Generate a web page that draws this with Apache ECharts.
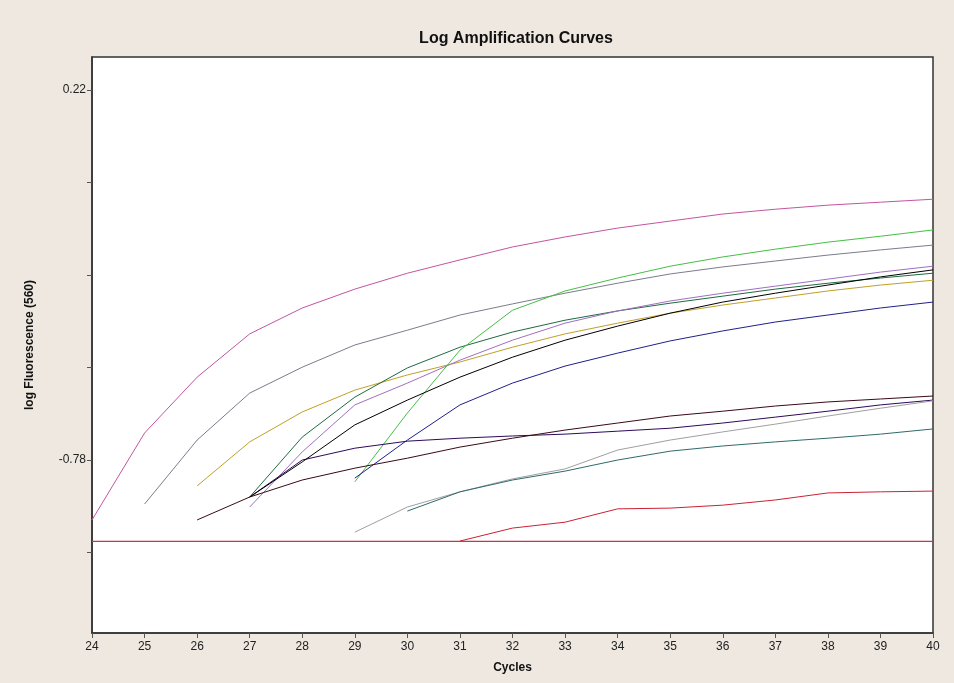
<!DOCTYPE html>
<html>
<head>
<meta charset="utf-8">
<script src="https://cdn.jsdelivr.net/npm/echarts@6/dist/echarts.min.js"></script>
<style>
html,body{margin:0;padding:0;background:#EEE8E0;}
#c{width:954px;height:683px;}
</style>
</head>
<body>
<div id="c"></div>
<script>
// Cycle numbers (x axis)
const cycles = [24,25,26,27,28,29,30,31,32,33,34,35,36,37,38,39,40];
const yTickValues = [0.22, -0.03, -0.28, -0.53, -0.78, -1.03];
const yLabelValues = [0.22, -0.78];

// Each series: first cycle, then values per cycle
const magentaStart = 24;
const magenta = [-0.942,-0.707,-0.556,-0.439,-0.369,-0.318,-0.275,-0.239,-0.204,-0.177,-0.153,-0.134,-0.115,-0.102,-0.091,-0.083,-0.075];
const grayStart = 25;
const gray = [-0.899,-0.726,-0.599,-0.529,-0.469,-0.429,-0.388,-0.358,-0.329,-0.302,-0.277,-0.258,-0.242,-0.226,-0.212,-0.199];
const oliveStart = 26;
const olive = [-0.850,-0.731,-0.650,-0.591,-0.550,-0.515,-0.475,-0.439,-0.410,-0.383,-0.361,-0.342,-0.323,-0.307,-0.294];
const darkGreenStart = 27;
const darkGreen = [-0.880,-0.718,-0.610,-0.531,-0.475,-0.434,-0.402,-0.377,-0.356,-0.337,-0.318,-0.302,-0.288,-0.275];
const violetStart = 27;
const violet = [-0.907,-0.758,-0.631,-0.572,-0.510,-0.456,-0.410,-0.377,-0.350,-0.329,-0.310,-0.291,-0.272,-0.256];
const blackStart = 27;
const black = [-0.880,-0.785,-0.685,-0.618,-0.556,-0.502,-0.456,-0.418,-0.383,-0.353,-0.329,-0.307,-0.285,-0.266];
const greenStart = 29;
const green = [-0.839,-0.653,-0.483,-0.375,-0.323,-0.288,-0.256,-0.231,-0.210,-0.191,-0.175,-0.158];
const navyStart = 29;
const navy = [-0.829,-0.726,-0.631,-0.572,-0.526,-0.491,-0.458,-0.431,-0.407,-0.388,-0.369,-0.353];
const indigoStart = 27;
const indigo = [-0.880,-0.780,-0.748,-0.729,-0.721,-0.715,-0.710,-0.702,-0.694,-0.680,-0.664,-0.648,-0.631,-0.618];
const maroonStart = 26;
const maroon = [-0.942,-0.880,-0.834,-0.802,-0.775,-0.745,-0.721,-0.699,-0.680,-0.661,-0.648,-0.634,-0.623,-0.615,-0.607];
const lightGrayStart = 29;
const lightGray = [-0.975,-0.907,-0.866,-0.831,-0.804,-0.753,-0.726,-0.704,-0.683,-0.661,-0.640,-0.620];
const tealStart = 30;
const teal = [-0.918,-0.866,-0.834,-0.810,-0.780,-0.756,-0.742,-0.731,-0.721,-0.710,-0.696];
const redStart = 31;
const red = [-0.999,-0.964,-0.948,-0.912,-0.910,-0.902,-0.888,-0.869,-0.866,-0.864];
const threshold = -1.0;

const curves = [
  {name:'magenta', start:magentaStart, vals:magenta, color:'#C4559F'},
  {name:'gray', start:grayStart, vals:gray, color:'#7C7C8C'},
  {name:'olive', start:oliveStart, vals:olive, color:'#C0A028'},
  {name:'darkGreen', start:darkGreenStart, vals:darkGreen, color:'#1E6A40'},
  {name:'violet', start:violetStart, vals:violet, color:'#A070C0'},
  {name:'green', start:greenStart, vals:green, color:'#44C044'},
  {name:'navy', start:navyStart, vals:navy, color:'#20208A'},
  {name:'indigo', start:indigoStart, vals:indigo, color:'#2E0A5A'},
  {name:'maroon', start:maroonStart, vals:maroon, color:'#3A0A18'},
  {name:'lightGray', start:lightGrayStart, vals:lightGray, color:'#A0A0A0'},
  {name:'teal', start:tealStart, vals:teal, color:'#2F6A6A'},
  {name:'black', start:blackStart, vals:black, color:'#000000'},
  {name:'red', start:redStart, vals:red, color:'#CC2233'}
];

const series = curves.map(c => ({
  type:'line', name:c.name, showSymbol:false, symbol:'none',
  lineStyle:{color:c.color, width:1},
  data: c.vals.map((v,i)=>[c.start+i, v]),
  z: 2
}));
series.push({
  type:'line', name:'threshold', showSymbol:false, symbol:'none',
  lineStyle:{color:'#CC3344', width:1.2},
  data:[[cycles[0], threshold],[cycles[cycles.length-1], threshold]],
  z: 1
});

const chart = echarts.init(document.getElementById('c'));
chart.setOption({
  animation:false,
  backgroundColor:'#EEE8E0',
  title:{
    text:'Log Amplification Curves', left:511, top:26, textAlign:'center',
    textStyle:{fontFamily:"'Liberation Sans',Arial,sans-serif", fontWeight:900, fontSize:16, color:'#111'}
  },
  grid:{left:92, right:21, top:57, bottom:50, show:true, backgroundColor:'#FFFFFF', borderColor:'#333', borderWidth:1.5},
  xAxis:{
    type:'value', min:24, max:40, interval:1,
    name:'Cycles', nameLocation:'middle', nameGap:29,
    nameTextStyle:{fontFamily:"'Liberation Sans',Arial,sans-serif", fontWeight:'bold', fontSize:12, color:'#111'},
    axisLine:{show:true, onZero:false, lineStyle:{color:'#333', width:1.5}},
    axisTick:{show:true, inside:false, length:5, lineStyle:{color:'#555'}},
    axisLabel:{fontFamily:"'Liberation Sans',Arial,sans-serif", fontSize:12, color:'#222', margin:8},
    splitLine:{show:false}
  },
  yAxis:{
    type:'value', min:-1.2476, max:0.3095,
    name:'log Fluorescence (560)', nameLocation:'middle', nameGap:56, nameRotate:90,
    nameTextStyle:{fontFamily:"'Liberation Sans',Arial,sans-serif", fontWeight:'bold', fontSize:12, color:'#111'},
    axisLine:{show:true, onZero:false, lineStyle:{color:'#333', width:1.5}},
    axisTick:{show:true, inside:false, length:5, customValues:yTickValues, lineStyle:{color:'#555'}},
    axisLabel:{fontFamily:"'Liberation Sans',Arial,sans-serif", fontSize:12, color:'#222', margin:6,
      customValues:yLabelValues, formatter:v=>Number(v).toFixed(2)},
    splitLine:{show:false}
  },
  series:series
});
</script>
</body>
</html>
